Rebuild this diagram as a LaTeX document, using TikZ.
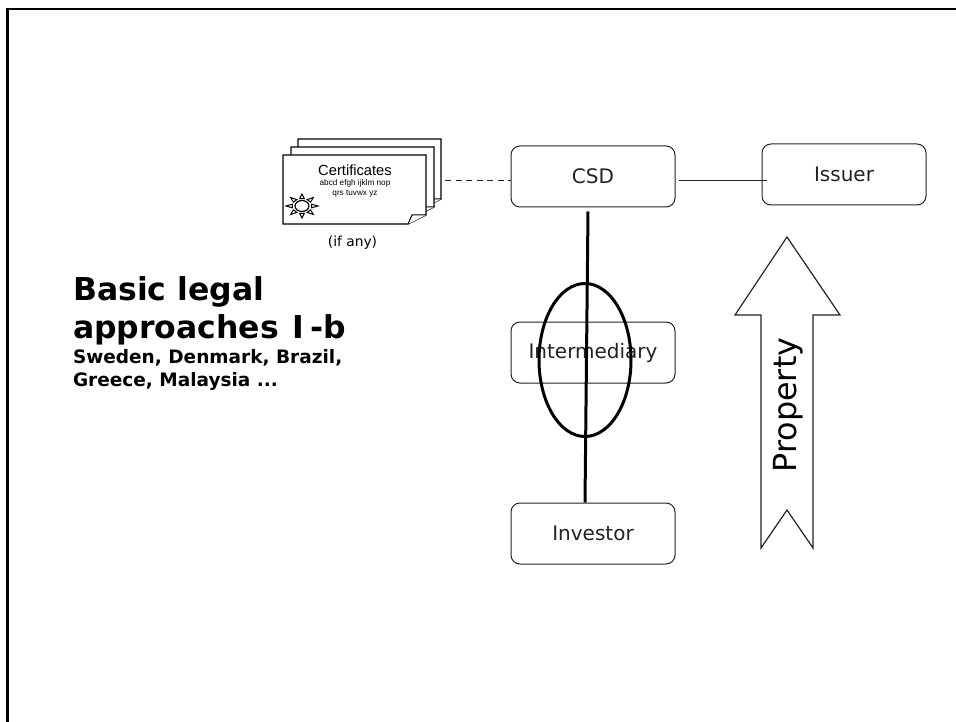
\documentclass[tikz,border=0pt]{standalone}
\usepackage{fontspec}
\setmainfont{DejaVu Sans}
\newfontfamily\certfont{Liberation Sans}
\usetikzlibrary{calc,shapes.geometric}
\definecolor{DarkGrey}{HTML}{222222}
\newcommand\BoxWidth{164pt}
\newcommand\BoxHeight{61pt}
\newcommand\SheetWidth{143}
\newcommand\SheetHeight{69}
\tikzstyle{party}=[rectangle,rounded corners=9pt,draw=DarkGrey,line width=1pt,text=DarkGrey,
                     minimum height=\BoxHeight,minimum width=\BoxWidth,font=\fontsize{20}{24}\selectfont]
\tikzstyle{plain}=[inner sep=0pt,outer sep=0pt,text=black]
\tikzstyle{link}=[line width=1pt,draw=DarkGrey]
\tikzstyle{heavy}=[line width=3pt,draw=black]
\begin{document}
\begin{tikzpicture}[x=1pt,y=-1pt]
   \useasboundingbox (0,0) rectangle (956,722);
   \draw[line width=2.8pt] (7.5,722) -- (7.5,9) -- (956,9);
   % certificates
   \foreach \dx/\dy in {15/-16,8/-8,0/0} {
      \draw[fill=white,line width=1.3pt] (283+\dx,155+\dy) -- ++(\SheetWidth,0) -- ++(0,60) -- ++(-18,9) -- ++(-\SheetWidth+18,0) -- cycle;
      \draw[fill=white,line width=1pt] (408+\dx,224+\dy) -- (412+\dx,215+\dy) -- (426+\dx,215+\dy);
   }
   \foreach \ang in {0,45,...,315} {
      \draw[fill=white,line width=1pt] ($(302,206)+(\ang+14:10 and 7.5)$) -- ($(302,206)+(\ang:16 and 12)$) -- ($(302,206)+(\ang-14:10 and 7.5)$) -- cycle;
   }
   \draw[fill=white,line width=1.2pt] (302,206) ellipse (7 and 5.5);
   \node[plain] (certtitle) at (355,170) {\certfont\fontsize{14.7}{16}\selectfont Certificates};
   \node[plain] (certtextA) at (355,183) {\certfont\fontsize{8.2}{10}\selectfont abcd efgh ijklm nop};
   \node[plain] (certtextB) at (355,194) {\certfont\fontsize{8.2}{10}\selectfont qrs tuvwx yz};
   \node[plain] (ifany) at (352.5,243) {\fontsize{13.8}{16}\selectfont (if any)};
   \coordinate (certs) at (445,181);
   % parties
   \node[party] (csd) at (593,176.5) {CSD};
   \node[party] (issuer) at (844,174.5) {Issuer};
   \node[party] (intermediary) at (593,352.5) {Intermediary};
   \node[party] (investor) at (593,533.5) {Investor};
   \draw[link,dash pattern=on 6pt off 4.5pt] (certs) -- (certs -| csd.west);
   \draw[link] ([shift={(3,4.5)}]csd.east) -- ([shift={(5,6.5)}]issuer.west);
   \draw[heavy] ([shift={(-5,4)}]csd.south) -- ([xshift=-8pt]investor.north);
   \node[ellipse,draw=black,line width=3pt,minimum width=92pt,minimum height=153pt,inner sep=0pt] (ring) at (585,360) {};
   % property arrow
   \draw[line width=1.2pt,draw=DarkGrey] (787,237) -- (840,315) -- (813,315) -- (813,548) -- (787,510) -- (761,548) -- (761,315) -- (735,315) -- cycle;
   \node[plain,rotate=90] (property) at (788,405) {\fontsize{31.8}{34}\selectfont Property};
   % heading
   \node[plain,anchor=base west] (headA) at (73,300) {\bfseries\fontsize{31.5}{36}\selectfont Basic legal};
   \node[plain,anchor=base west] (headB) at (73,338) {\bfseries\fontsize{31.5}{36}\selectfont approaches\kern3pt{} I\kern6pt-b};
   \node[plain,anchor=base west] (headC) at (73,363) {\bfseries\fontsize{18.5}{20}\selectfont Sweden, Denmark, Brazil,};
   \node[plain,anchor=base west] (headD) at (73,386) {\bfseries\fontsize{18.5}{20}\selectfont Greece, Malaysia ...};
\end{tikzpicture}
\end{document}
